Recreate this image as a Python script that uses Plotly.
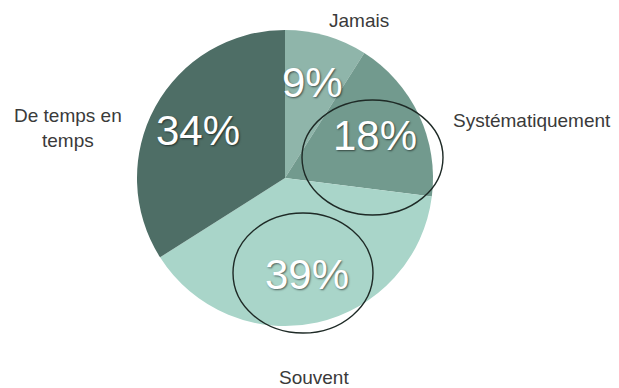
import math
import plotly.graph_objects as go

categories = ["Jamais", "Systématiquement", "Souvent", "De temps en temps"]
values = [9, 18, 39, 34]
colors = ["#8fb5aa", "#729a8e", "#a9d5c9", "#4e6e66"]
outer_labels = ["Jamais", "Systématiquement", "Souvent", "De temps en<br>temps"]

W, H = 619, 388
cx, cy, R = 285, 178, 148

def px(x):
    return x / W

def py(y):
    return 1 - y / H

fig = go.Figure(go.Pie(
    labels=categories, values=values, sort=False, direction="clockwise",
    rotation=0, marker=dict(colors=colors, line=dict(width=0)),
    textinfo="none", hoverinfo="label+percent",
    domain=dict(x=[px(cx - R), px(cx + R)], y=[py(cy + R), py(cy - R)]),
))

annotations = []
total = sum(values)
cum = 0
for v in values:
    mid = (cum + v / 2) / total * 2 * math.pi
    cum += v
    r = 0.67 * R
    x = cx + r * math.sin(mid)
    y = cy - r * math.cos(mid)
    annotations.append(dict(
        x=px(x), y=py(y), xref="paper", yref="paper", showarrow=False,
        text=f"{v}%", xanchor="center", yanchor="middle",
        font=dict(family="Liberation Sans", size=42, color="white",
                  shadow="1px 1px 2px rgba(0,0,0,0.55)"),
    ))

label_pos = [(359, 20), (532, 120), (314, 377), (68, 128)]
for t, (x, y) in zip(outer_labels, label_pos):
    annotations.append(dict(
        x=px(x), y=py(y), xref="paper", yref="paper", showarrow=False,
        text=t, xanchor="center", yanchor="middle", align="center",
        font=dict(family="Liberation Sans", size=19, color="#3a3a3a"),
    ))

shapes = [
    dict(type="circle", xref="paper", yref="paper",
         x0=px(302), x1=px(443), y0=py(215), y1=py(100),
         line=dict(color="#1e2a26", width=1.4)),
    dict(type="circle", xref="paper", yref="paper",
         x0=px(233), x1=px(373), y0=py(333), y1=py(213),
         line=dict(color="#1e2a26", width=1.4)),
]

fig.update_layout(
    width=W, height=H, margin=dict(l=0, r=0, t=0, b=0),
    paper_bgcolor="white", plot_bgcolor="white", showlegend=False,
    annotations=annotations, shapes=shapes,
)

fig.write_html("out.html")
